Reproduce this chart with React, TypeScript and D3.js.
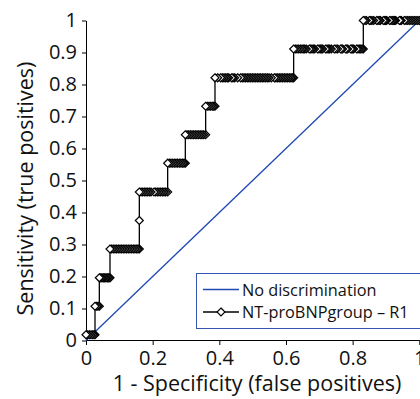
import React, { useEffect, useRef } from 'react';
import * as d3 from 'd3';

// sensitivity at each step of the ROC staircase
const sensitivityLevels = [0.018, 0.107, 0.196, 0.286, 0.375, 0.464, 0.554, 0.643, 0.732, 0.821, 0.911, 1.0];

// 1 - specificity of the points on each step
const fprLevel0 = [0, 0.005, 0.010, 0.015, 0.020, 0.024, 0.027];
const fprLevel1 = [0.027, 0.032, 0.036, 0.040];
const fprLevel2 = [0.040, 0.044, 0.048, 0.052, 0.056, 0.060, 0.064, 0.068, 0.072];
const fprLevel3 = [0.072, 0.077, 0.082, 0.087, 0.092, 0.097, 0.102, 0.107, 0.112, 0.117, 0.122, 0.127, 0.132, 0.137, 0.142, 0.147, 0.152, 0.156, 0.160];
const fprLevel4 = [0.160];
const fprLevel5 = [0.160, 0.165, 0.170, 0.175, 0.180, 0.185, 0.190, 0.195, 0.204, 0.209, 0.214, 0.219, 0.224, 0.229, 0.234, 0.239, 0.245];
const fprLevel6 = [0.245, 0.250, 0.255, 0.260, 0.265, 0.270, 0.275, 0.280, 0.285, 0.290, 0.294, 0.298];
const fprLevel7 = [0.298, 0.303, 0.308, 0.313, 0.318, 0.323, 0.328, 0.333, 0.338, 0.343, 0.348, 0.353, 0.359];
const fprLevel8 = [0.359, 0.364, 0.369, 0.374, 0.379, 0.383, 0.387];
const fprLevel9 = [0.387, 0.395, 0.404, 0.409, 0.414, 0.419, 0.424, 0.428, 0.437, 0.441, 0.446, 0.455, 0.464, 0.469, 0.474, 0.479, 0.484, 0.489, 0.494, 0.499, 0.504, 0.509, 0.514, 0.519, 0.524, 0.529, 0.534, 0.539, 0.544, 0.549, 0.556, 0.565, 0.570, 0.575, 0.580, 0.585, 0.590, 0.595, 0.600, 0.605, 0.610, 0.615, 0.619, 0.623];
const fprLevel10 = [0.623, 0.628, 0.633, 0.638, 0.643, 0.648, 0.652, 0.656, 0.661, 0.670, 0.674, 0.678, 0.682, 0.686, 0.695, 0.699, 0.703, 0.707, 0.710, 0.719, 0.723, 0.727, 0.731, 0.736, 0.745, 0.750, 0.755, 0.764, 0.767, 0.770, 0.779, 0.782, 0.785, 0.794, 0.797, 0.800, 0.803, 0.812, 0.816, 0.820, 0.824, 0.828, 0.832];
const fprLevel11 = [0.832, 0.837, 0.841, 0.850, 0.854, 0.858, 0.863, 0.872, 0.876, 0.880, 0.883, 0.892, 0.896, 0.899, 0.902, 0.911, 0.915, 0.919, 0.923, 0.926, 0.929, 0.940, 0.943, 0.946, 0.955, 0.960, 0.965, 0.970, 0.975, 0.980, 0.985, 0.990, 0.995, 1.0];

const fprByLevel = [fprLevel0, fprLevel1, fprLevel2, fprLevel3, fprLevel4, fprLevel5, fprLevel6, fprLevel7, fprLevel8, fprLevel9, fprLevel10, fprLevel11];

const noDiscrimination = [{ fpr: 0, tpr: 0 }, { fpr: 1, tpr: 1 }];

const xTicks = [0, 0.2, 0.4, 0.6, 0.8, 1];
const yTicks = [0, 0.1, 0.2, 0.3, 0.4, 0.5, 0.6, 0.7, 0.8, 0.9, 1];
const legendLabels = ['No discrimination', 'NT-proBNPgroup – R1'];
const xTitle = '1 - Specificity (false positives)';
const yTitle = 'Sensitivity (true positives)';

const FONT = '"Open Sans", "DejaVu Sans", sans-serif';
const BLUE = '#1f48b4';
const DIAMOND = 'M0,-4L4,0L0,4L-4,0Z';

const App = () => {
  const svgRef = useRef<SVGSVGElement>(null);

  useEffect(() => {
    const svg = d3.select(svgRef.current);
    svg.selectAll('*').remove();

    const rocPoints: { fpr: number; tpr: number }[] = [];
    fprByLevel.forEach((xs, i) => xs.forEach(fpr => rocPoints.push({ fpr, tpr: sensitivityLevels[i] })));

    const x = d3.scaleLinear().domain([0, 1]).range([86, 419.3]);
    const y = d3.scaleLinear().domain([0, 1]).range([340.5, 20.5]);

    // axes
    const yAxis = svg.append('g')
      .attr('transform', 'translate(86,0)')
      .call(d3.axisLeft(y).tickValues(yTicks).tickSize(4).tickSizeOuter(0).tickPadding(5)
        .tickFormat(d => String(+(+d).toFixed(1))));
    const xAxis = svg.append('g')
      .attr('transform', 'translate(0,340)')
      .call(d3.axisBottom(x).tickValues(xTicks).tickSize(5).tickSizeOuter(0).tickPadding(6)
        .tickFormat(d => String(+(+d).toFixed(1))));

    [xAxis, yAxis].forEach(a => {
      a.selectAll('path, line').attr('stroke', '#000').attr('stroke-width', 1);
      a.selectAll('text')
        .attr('font-family', FONT)
        .attr('font-size', 20)
        .attr('fill', '#111');
    });

    // no discrimination diagonal
    const line = d3.line<{ fpr: number; tpr: number }>().x(d => x(d.fpr)).y(d => y(d.tpr));
    svg.append('path')
      .datum(noDiscrimination)
      .attr('d', line)
      .attr('fill', 'none')
      .attr('stroke', BLUE)
      .attr('stroke-width', 1.3);

    // ROC staircase
    svg.append('path')
      .datum(rocPoints)
      .attr('d', line)
      .attr('fill', 'none')
      .attr('stroke', '#000')
      .attr('stroke-width', 1.3);

    // markers drawn from (1,1) back to (0,0)
    svg.append('g')
      .selectAll('path')
      .data(rocPoints.slice().reverse())
      .enter()
      .append('path')
      .attr('d', DIAMOND)
      .attr('transform', d => `translate(${x(d.fpr)},${y(d.tpr)})`)
      .attr('fill', '#fff')
      .attr('stroke', '#000')
      .attr('stroke-width', 1.2);

    // titles
    svg.append('text')
      .attr('x', 257)
      .attr('y', 391)
      .attr('text-anchor', 'middle')
      .attr('font-family', FONT)
      .attr('font-size', 21.5)
      .attr('fill', '#111')
      .text(xTitle);

    svg.append('text')
      .attr('transform', 'translate(32.5,188.5) rotate(-90)')
      .attr('text-anchor', 'middle')
      .attr('font-family', FONT)
      .attr('font-size', 21.5)
      .attr('fill', '#111')
      .text(yTitle);

    // legend
    const legend = svg.append('g');
    legend.append('rect')
      .attr('x', 196.5)
      .attr('y', 273.5)
      .attr('width', 240)
      .attr('height', 55)
      .attr('fill', '#fff')
      .attr('stroke', '#3556b0')
      .attr('stroke-width', 1);

    legendLabels.forEach((label, i) => {
      const ly = 289.5 + i * 22.5;
      legend.append('line')
        .attr('x1', 203).attr('x2', 239)
        .attr('y1', ly).attr('y2', ly)
        .attr('stroke', i === 0 ? BLUE : '#000')
        .attr('stroke-width', 1.3);
      if (i === 1) {
        legend.append('path')
          .attr('d', DIAMOND)
          .attr('transform', `translate(221,${ly})`)
          .attr('fill', '#fff')
          .attr('stroke', '#000')
          .attr('stroke-width', 1.2);
      }
      legend.append('text')
        .attr('x', 242)
        .attr('y', ly + 6)
        .attr('font-family', FONT)
        .attr('font-size', 16.3)
        .attr('fill', '#111')
        .text(label);
    });
  }, []);

  return (
    <div style={{ position: 'absolute', left: 0, top: 0, width: 420, height: 399, background: '#fff' }}>
      <svg ref={svgRef} width={420} height={399} style={{ display: 'block' }} />
    </div>
  );
};

export default App;
